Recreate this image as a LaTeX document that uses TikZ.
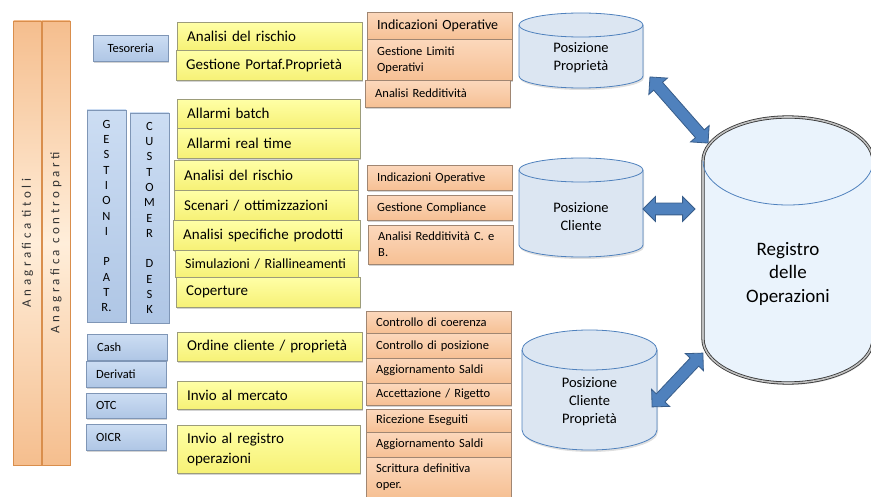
\documentclass[tikz,border=0pt]{standalone}
\usepackage{fontspec}
\setmainfont{Carlito}
\newfontfamily\spacedfont[LetterSpace=27]{Carlito}
\usetikzlibrary{shapes.arrows,shadows}

\definecolor{barline}{HTML}{D98E4C}
\definecolor{barside}{HTML}{F5BE8E}
\definecolor{barmid}{HTML}{FFEEDA}
\definecolor{blueline}{HTML}{7F96B6}
\definecolor{bluetop}{HTML}{CCDDF3}
\definecolor{bluebot}{HTML}{AFC6E5}
\definecolor{yline}{HTML}{9C9C7A}
\definecolor{ytop}{HTML}{FFFFA6}
\definecolor{ybot}{HTML}{F6F176}
\definecolor{oline}{HTML}{A08672}
\definecolor{otop}{HTML}{FCD8BC}
\definecolor{obot}{HTML}{F6C094}
\definecolor{cylline}{HTML}{4F81BD}
\definecolor{cylfill}{HTML}{DCE6F2}
\definecolor{regfill}{HTML}{EAF3FC}
\definecolor{arrfill}{HTML}{4F81BD}
\definecolor{arrline}{HTML}{385D8A}

% cilindro: centro x, centro ellisse alta, raggio x, lunghezza, raggio y
\newcommand{\archivio}[6][]{%
  \filldraw[#1] (#2-#4,#3) -- ++(0,#5) arc[start angle=180, end angle=0, x radius=#4, y radius=#6]
    -- ++(0,-#5) arc[start angle=0, end angle=-180, x radius=#4, y radius=#6] -- cycle;
  \draw[cylline, line width=0.8pt] (#2-#4,#3) arc[start angle=180, end angle=0, x radius=#4, y radius=#6];
}

\begin{document}
\begin{tikzpicture}[x=1pt, y=-1pt,
    shadowed/.style={drop shadow={shadow xshift=1.2pt, shadow yshift=-1.5pt, opacity=.35}},
    barbox/.style={draw=barline, top color=barside, bottom color=barside, middle color=barmid,
      inner sep=0pt, rotate=90, anchor=center, minimum height=28pt, minimum width=444pt,
      text=black!80, font=\spacedfont\fontsize{13}{15}\selectfont},
    bluebox/.style={anchor=north west, draw=blueline, top color=bluetop, bottom color=bluebot,
      inner xsep=10pt, inner ysep=1pt, align=left, shadowed, font=\fontsize{12.5}{15.3}\selectfont},
    ybox/.style={anchor=north west, draw=yline, top color=ytop, bottom color=ybot,
      inner xsep=10pt, inner ysep=1pt, align=left, shadowed, font=\fontsize{15}{20}\selectfont},
    obox/.style={anchor=north west, draw=oline, top color=otop, bottom color=obot,
      inner xsep=10pt, inner ysep=1pt, align=left, shadowed, text width=125pt,
      font=\fontsize{12.5}{16}\selectfont},
    cyl/.style={draw=cylline, fill=cylfill, line width=0.8pt,
      drop shadow={shadow xshift=1pt, shadow yshift=-2pt, opacity=.25}},
    cyltext/.style={align=center, inner sep=0pt, font=\fontsize{14.5}{18}\selectfont},
    dblarrow/.style={double arrow, draw=arrline, fill=arrfill, line width=0.8pt, inner xsep=0pt,
      inner ysep=5.5pt, double arrow head extend=6.5pt, double arrow head indent=0pt, anchor=center}]
  \useasboundingbox (0,0) rectangle (871,497);
  % anagrafiche
  \node[barbox] (titoli) at (27.5,243) {Anagrafica titoli};
  \node[barbox] (contro) at (56,243) {Anagrafica controparti};
  % settori
  \node[bluebox, text width=55pt, align=center, minimum height=26pt] (tes) at (93,35) {Tesoreria};
  \node[bluebox, anchor=center, inner xsep=0pt, text width=39pt, align=center, minimum height=212pt] (gest) at (106.5,216)
    {G\\E\\S\\T\\I\\O\\N\\I\\[15.3pt]P\\A\\T\\R.};
  \node[bluebox, anchor=center, inner xsep=0pt, text width=39pt, align=center, minimum height=210pt] (cust) at (149.5,218)
    {C\\U\\S\\T\\O\\M\\E\\R\\[15.3pt]D\\E\\S\\K};
  \node[bluebox, text width=60pt, minimum height=26pt] (cash) at (87,334) {Cash};
  \node[bluebox, text width=60pt, minimum height=26pt] (der) at (86,361) {Derivati};
  \node[bluebox, text width=60pt, minimum height=25pt] (otc) at (86,393) {OTC};
  \node[bluebox, text width=60pt, minimum height=26pt] (oicr) at (86,424) {OICR};
  % funzioni
  \node[ybox, text width=165pt, minimum height=28pt] (y1) at (177,22) {Analisi del rischio};
  \node[ybox, text width=166pt, minimum height=30pt] (y2) at (176,50) {Gestione Portaf.Proprietà};
  \node[ybox, text width=163pt, minimum height=29pt] (y3) at (177,99) {Allarmi batch};
  \node[ybox, text width=163pt, minimum height=30pt] (y4) at (177,128) {Allarmi real time};
  \node[ybox, text width=164pt, minimum height=30pt] (y5) at (174,160) {Analisi del rischio};
  \node[ybox, text width=164pt, minimum height=30pt] (y6) at (174,190) {Scenari / ottimizzazioni};
  \node[ybox, text width=167pt, minimum height=30pt] (y7) at (173,220) {Analisi specifiche prodotti};
  \node[ybox, text width=163pt, minimum height=27pt, font=\fontsize{14}{18}\selectfont] (y8) at (175,250) {Simulazioni / Riallineamenti};
  \node[ybox, text width=164pt, minimum height=30pt] (y9) at (176,277) {Coperture};
  \node[ybox, text width=165pt, minimum height=29pt] (y10) at (177,332) {Ordine cliente / proprietà};
  \node[ybox, text width=165pt, minimum height=28pt] (y11) at (177,381) {Invio al mercato};
  \node[ybox, text width=163pt, minimum height=48pt] (y12) at (177,425) {Invio al registro\\operazioni};
  % attivita
  \node[obox, minimum height=27pt, font=\fontsize{14}{17}\selectfont] (o1) at (367,12) {Indicazioni Operative};
  \node[obox, minimum height=41pt] (o2) at (367,39) {Gestione Limiti\\Operativi};
  \node[obox, minimum height=27pt] (o3) at (365,80) {Analisi Redditività};
  \node[obox, minimum height=25pt] (o4) at (367,165) {Indicazioni Operative};
  \node[obox, minimum height=25pt] (o5) at (367,195) {Gestione Compliance};
  \node[obox, minimum height=39pt] (o6) at (368,225) {Analisi Redditività C. e\\B.};
  \node[obox, minimum height=22pt] (o7) at (366,311) {Controllo di coerenza};
  \node[obox, minimum height=25pt] (o8) at (366,333) {Controllo di posizione};
  \node[obox, minimum height=25pt] (o9) at (366,358) {Aggiornamento Saldi};
  \node[obox, minimum height=22pt] (o10) at (366,383) {Accettazione / Rigetto};
  \node[obox, minimum height=23pt] (o11) at (366,409) {Ricezione Eseguiti};
  \node[obox, minimum height=25pt] (o12) at (366,432) {Aggiornamento Saldi};
  \node[obox, minimum height=40pt] (o13) at (366,457) {Scrittura definitiva\\oper.};
  % archivi
  \archivio[cyl]{581}{25}{62}{51}{12}
  \node[cyltext] (pp) at (581,57.5) {Posizione\\Proprietà};
  \archivio[cyl]{581}{170}{62}{75}{12}
  \node[cyltext] (pc) at (581,217) {Posizione\\Cliente};
  \archivio[cyl]{589.5}{350}{67.5}{80}{20}
  \node[cyltext] (pcp) at (589.5,401.5) {Posizione\\Cliente\\Proprietà};
  \archivio[cyl, draw=black!80, fill=regfill, double=black!25, double distance=1.6pt]{788}{161}{85}{178}{44}
  \node[cyltext, font=\fontsize{19}{23.5}\selectfont] (reg) at (788,273.5) {Registro\\delle\\Operazioni};
  % collegamenti
  \coordinate (a1s) at (650,77);
  \coordinate (a1e) at (708,143);
  \coordinate (a2s) at (643,209);
  \coordinate (a2e) at (695,209);
  \coordinate (a3s) at (652,407);
  \coordinate (a3e) at (703,353);
  \path (a1s) -- (a1e) node[dblarrow, midway, sloped, minimum height=88pt] (arr1) {};
  \path (a2s) -- (a2e) node[dblarrow, midway, sloped, minimum height=52pt] (arr2) {};
  \path (a3s) -- (a3e) node[dblarrow, midway, sloped, minimum height=74pt] (arr3) {};
\end{tikzpicture}
\end{document}
